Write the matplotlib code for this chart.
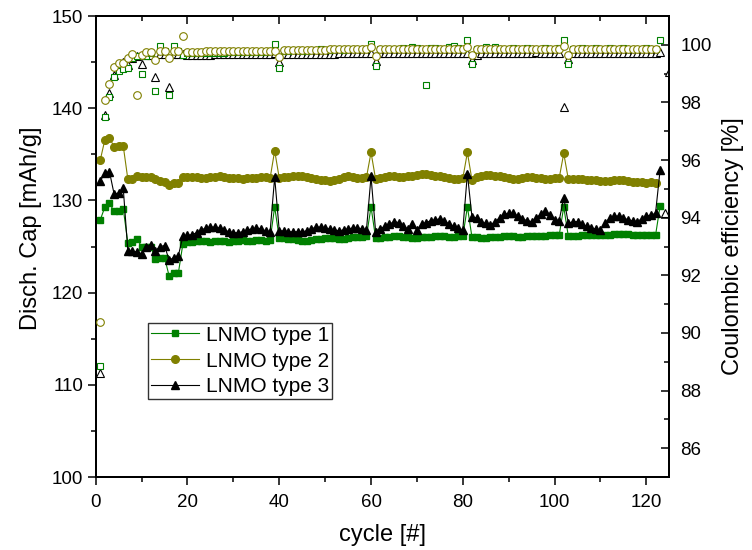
"""LNMO cycling: discharge capacity (left) and coulombic efficiency (right)."""
import matplotlib
matplotlib.use("Agg")
import matplotlib.pyplot as plt
import numpy as np

plt.rcParams["font.family"] = ["Liberation Sans", "DejaVu Sans"]

# discharge capacity [mAh/g], one value per cycle starting at cycle 1
cap1 = [127.9, 129.3, 129.7, 128.8, 128.9, 129.1, 125.4, 125.5, 125.8, 125.0,
        124.9, 125.0, 123.6, 123.7, 123.8, 121.8, 122.1, 122.1, 125.3,
        125.5, 125.5, 125.6, 125.6, 125.6, 125.5, 125.6, 125.6, 125.6, 125.5,
        125.6, 125.6, 125.7, 125.6, 125.6, 125.7, 125.7, 125.6, 125.7,
        129.3,
        125.9, 125.9, 125.8, 125.8, 125.7, 125.6, 125.6, 125.7, 125.8, 125.8,
        125.9, 125.9, 125.9, 125.8, 125.8, 125.9, 126.0, 126.0, 126.0, 126.1,
        129.3,
        125.9, 125.9, 126.0, 126.0, 126.1, 126.1, 126.0, 126.0, 125.9, 125.9,
        126.0, 126.0, 126.0, 126.1, 126.1, 126.1, 126.0, 126.0, 126.1, 126.1,
        129.3,
        126.0, 126.0, 125.9, 125.9, 126.0, 126.0, 126.0, 126.1, 126.1, 126.1,
        126.0, 126.0, 126.1, 126.1, 126.1, 126.1, 126.1, 126.2, 126.2, 126.2,
        129.3,
        126.1, 126.1, 126.1, 126.2, 126.2, 126.2, 126.2, 126.2, 126.3, 126.3,
        126.4, 126.4, 126.4, 126.4, 126.3, 126.3, 126.3, 126.2, 126.2, 126.2,
        129.4]
cap2 = [134.4, 136.6, 136.8, 135.8, 135.9, 135.9, 132.3, 132.3, 132.6, 132.5,
        132.5, 132.5, 132.3, 132.1, 132.0, 131.7, 131.9, 131.9, 132.5,
        132.5, 132.5, 132.5, 132.4, 132.4, 132.5, 132.5, 132.6, 132.5, 132.4,
        132.4, 132.4, 132.3, 132.4, 132.4, 132.4, 132.5, 132.5, 132.4,
        135.4,
        132.4, 132.5, 132.5, 132.6, 132.6, 132.6, 132.5, 132.4, 132.3, 132.2,
        132.2, 132.1, 132.2, 132.3, 132.5, 132.6, 132.5, 132.4, 132.4, 132.5,
        135.2,
        132.3, 132.4, 132.5, 132.6, 132.6, 132.5, 132.5, 132.6, 132.7, 132.8,
        132.9, 132.9, 132.8, 132.7, 132.6, 132.5, 132.4, 132.3, 132.3, 132.4,
        135.2,
        132.2, 132.5, 132.7, 132.8, 132.8, 132.7, 132.6, 132.5, 132.4, 132.3,
        132.3, 132.4, 132.5, 132.5, 132.4, 132.4, 132.3, 132.3, 132.4, 132.4,
        135.1,
        132.3, 132.3, 132.3, 132.3, 132.2, 132.2, 132.2, 132.1, 132.1, 132.1,
        132.2, 132.2, 132.2, 132.1, 132.0, 132.0, 132.0, 131.9, 132.0, 131.9]
cap3 = [132.1, 133.0, 133.1, 130.7, 130.8, 131.3, 124.5, 124.5, 124.4, 124.2,
        125.0, 125.2, 124.5, 125.0, 125.1, 123.5, 123.8, 124.0, 126.1,
        126.2, 126.3, 126.5, 126.8, 127.0, 127.1, 127.1, 127.0, 126.8, 126.6,
        126.5, 126.5, 126.6, 126.8, 126.9, 127.0, 126.9, 126.7, 126.6,
        132.5,
        126.7, 126.7, 126.6, 126.6, 126.6, 126.6, 126.7, 126.9, 127.1, 127.1,
        127.0, 126.9, 126.8, 126.7, 126.8, 126.9, 127.0, 127.0, 126.9, 126.8,
        132.6,
        126.6, 126.9, 127.2, 127.4, 127.7, 127.6, 127.2, 126.9, 127.4, 126.8,
        127.4, 127.6, 127.8, 127.9, 128.0, 127.8, 127.4, 127.2, 127.0, 126.8,
        132.9,
        128.2, 128.1, 127.7, 127.5, 127.3, 127.7, 128.1, 128.5, 128.6, 128.6,
        128.3, 128.0, 127.8, 127.7, 128.1, 128.5, 128.9, 128.4, 127.9, 127.8,
        130.3,
        127.5, 127.7, 127.7, 127.4, 127.2, 127.0, 126.9, 126.8, 127.5, 128.1,
        128.3, 128.3, 128.1, 127.9, 127.8, 127.7, 128.0, 128.3, 128.4, 128.6,
        133.3]

# coulombic efficiency [%]
ce1 = [88.85, 97.5, 98.2, 98.9, 99.1, 99.15, 99.2, 99.55, 99.6, 99.0,
       99.6, 99.7, 98.4, 99.95, 99.8, 98.25, 99.95, 99.8, 99.65,
       99.70, 99.70, 99.70, 99.70, 99.72, 99.72, 99.72, 99.72, 99.72, 99.74,
       99.74, 99.74, 99.74, 99.74, 99.75, 99.75, 99.76, 99.76, 99.78,
       100.04, 99.19,
       99.80, 99.80, 99.82, 99.82, 99.80, 99.80, 99.82, 99.82, 99.84, 99.82,
       99.82, 99.84, 99.84, 99.82, 99.84, 99.86, 99.84, 99.84, 99.86,
       100.04, 99.25,
       99.84, 99.86, 99.86, 99.84, 99.86, 99.88, 99.86, 99.92, 99.88, 99.86,
       98.60, 99.90, 99.88, 99.86, 99.86, 99.92, 99.96, 99.88, 99.86,
       100.18, 99.32,
       99.86, 99.86, 99.94, 99.86, 99.92, 99.86, 99.86, 99.86, 99.88, 99.86,
       99.86, 99.88, 99.86, 99.86, 99.86, 99.88, 99.86, 99.86, 99.88,
       100.15, 99.35,
       99.86, 99.86, 99.88, 99.86, 99.86, 99.90, 99.86, 99.86, 99.88, 99.86,
       99.86, 99.88, 99.86, 99.86, 99.86, 99.86, 99.88, 99.86, 99.86,
       100.18]
ce2 = [90.37, 98.07, 98.65, 99.23, 99.37, 99.37, 99.55, 99.69, 98.25, 99.63,
       99.75, 99.75, 99.48, 99.78, 99.78, 99.54, 99.78, 99.78, 100.30,
       99.76, 99.76, 99.76, 99.76, 99.77, 99.77, 99.77, 99.77, 99.77, 99.78,
       99.78, 99.78, 99.78, 99.78, 99.79, 99.79, 99.79, 99.79, 99.80,
       99.80, 99.57,
       99.82, 99.82, 99.82, 99.83, 99.83, 99.83, 99.83, 99.83, 99.83, 99.83,
       99.84, 99.84, 99.84, 99.84, 99.84, 99.84, 99.84, 99.85, 99.85,
       99.92, 99.60,
       99.85, 99.85, 99.85, 99.86, 99.86, 99.86, 99.86, 99.86, 99.86, 99.86,
       99.86, 99.86, 99.86, 99.86, 99.86, 99.86, 99.86, 99.86, 99.86,
       99.92, 99.63,
       99.86, 99.86, 99.86, 99.86, 99.86, 99.86, 99.86, 99.86, 99.86, 99.86,
       99.86, 99.86, 99.86, 99.86, 99.86, 99.86, 99.86, 99.86, 99.87,
       99.96, 99.63,
       99.86, 99.86, 99.86, 99.86, 99.86, 99.86, 99.86, 99.86, 99.86, 99.86,
       99.86, 99.86, 99.86, 99.86, 99.86, 99.86, 99.86, 99.86, 99.86]
ce3 = [88.60, 97.57, 98.33, 98.94, 99.35, 99.40, 99.30, 99.55, 99.60, 99.32,
       99.65, 99.65, 98.88, 99.68, 99.68, 98.53, 99.68, 99.68, 99.68,
       99.66, 99.66, 99.66, 99.66, 99.66, 99.66, 99.67, 99.67, 99.67, 99.67,
       99.67, 99.67, 99.67, 99.68, 99.68, 99.68, 99.68, 99.68, 99.68,
       99.70, 99.40,
       99.68, 99.68, 99.68, 99.68, 99.68, 99.69, 99.69, 99.69, 99.69, 99.69,
       99.69, 99.69, 99.70, 99.70, 99.70, 99.70, 99.70, 99.70, 99.70,
       99.72, 99.43,
       99.70, 99.70, 99.70, 99.70, 99.70, 99.70, 99.70, 99.70, 99.70, 99.70,
       99.70, 99.70, 99.70, 99.70, 99.70, 99.70, 99.70, 99.70, 99.70,
       99.72, 99.46,
       99.66, 99.70, 99.72, 99.72, 99.72, 99.72, 99.72, 99.72, 99.72, 99.72,
       99.72, 99.72, 99.72, 99.75, 99.72, 99.72, 99.72, 99.72, 99.72,
       97.84, 99.50,
       99.73, 99.73, 99.73, 99.70, 99.73, 99.73, 99.73, 99.73, 99.73, 99.70,
       99.73, 99.73, 99.73, 99.73, 99.73, 99.73, 99.70, 99.73, 99.73,
       99.75, 94.15, 99.05]

labels = ["LNMO type 1", "LNMO type 2", "LNMO type 3"]
colors = ["#008000", "#808000", "#000000"]
markers = ["s", "o", "^"]
msize = [5.0, 5.5, 6.0]


def cycles(vals):
    return np.arange(1, len(vals) + 1)


fig = plt.figure(figsize=(7.52, 5.5), dpi=100)
ax = fig.add_axes([0.1273, 0.1327, 0.7627, 0.8382])
ax2 = ax.twinx()

for vals, c, m, ms, lab in zip((cap1, cap2, cap3), colors, markers, msize, labels):
    ax.plot(cycles(vals), vals, color=c, marker=m, ms=ms, mec=c, mfc=c,
            lw=0.8, label=lab)

# open symbols for the efficiency, triangles underneath
for vals, c, m, ms, z in ((ce3, colors[2], "^", 6.0, 2), (ce1, colors[0], "s", 5.0, 3),
                          (ce2, colors[1], "o", 5.5, 4)):
    ax2.plot(cycles(vals), vals, ls="none", marker=m, ms=ms, mec=c, mfc="white",
             mew=0.8, zorder=z)

ax.set_xlim(0, 125)
ax.set_ylim(100, 150)
ax2.set_ylim(85, 101)
ax.set_xticks(np.arange(0, 121, 20))
ax.set_xticks(np.arange(10, 125, 20), minor=True)
ax.set_yticks(np.arange(100, 151, 10))
ax.set_yticks(np.arange(105, 150, 10), minor=True)
ax2.set_yticks(np.arange(86, 101, 2))
ax2.set_yticks(np.arange(85, 101, 2), minor=True)

for a in (ax, ax2):
    for s in a.spines.values():
        s.set_linewidth(1.4)

ax.tick_params(axis="both", which="both", direction="out", width=1.1,
               labelsize=13.5, right=False, top=False)
ax.tick_params(which="major", length=6)
ax.tick_params(which="minor", length=3.5)
ax.tick_params(axis="y", pad=3)
ax.tick_params(axis="x", pad=6.5)
ax2.tick_params(axis="y", which="both", direction="in", width=1.1,
                labelsize=13.5, pad=8)
ax2.tick_params(which="major", length=6)
ax2.tick_params(which="minor", length=3.5)

top = ax.secondary_xaxis("top")
top.set_xticks(np.arange(0, 121, 20))
top.set_xticks(np.arange(10, 125, 20), minor=True)
top.tick_params(which="both", direction="in", width=1.1, labeltop=False)
top.tick_params(which="major", length=6)
top.tick_params(which="minor", length=3.5)
top.spines["top"].set_linewidth(1.4)

ax.set_xlabel("cycle [#]", fontsize=17, labelpad=9)
ax.set_ylabel("Disch. Cap [mAh/g]", fontsize=17)
ax.yaxis.set_label_coords(-0.0936, 0.54)
ax2.set_ylabel("Coulombic efficiency [%]", fontsize=17)
ax2.yaxis.set_label_coords(1.092, 0.5)

leg = ax.legend(loc="upper left", bbox_to_anchor=(0.0917, 0.3347), borderaxespad=0,
                fontsize=15, frameon=True, fancybox=False, handlelength=2.3,
                handletextpad=0.34, labelspacing=0.33, borderpad=0.14)
leg.get_frame().set_edgecolor("black")
leg.get_frame().set_linewidth(1.0)

fig.savefig("out.png", dpi=100)
